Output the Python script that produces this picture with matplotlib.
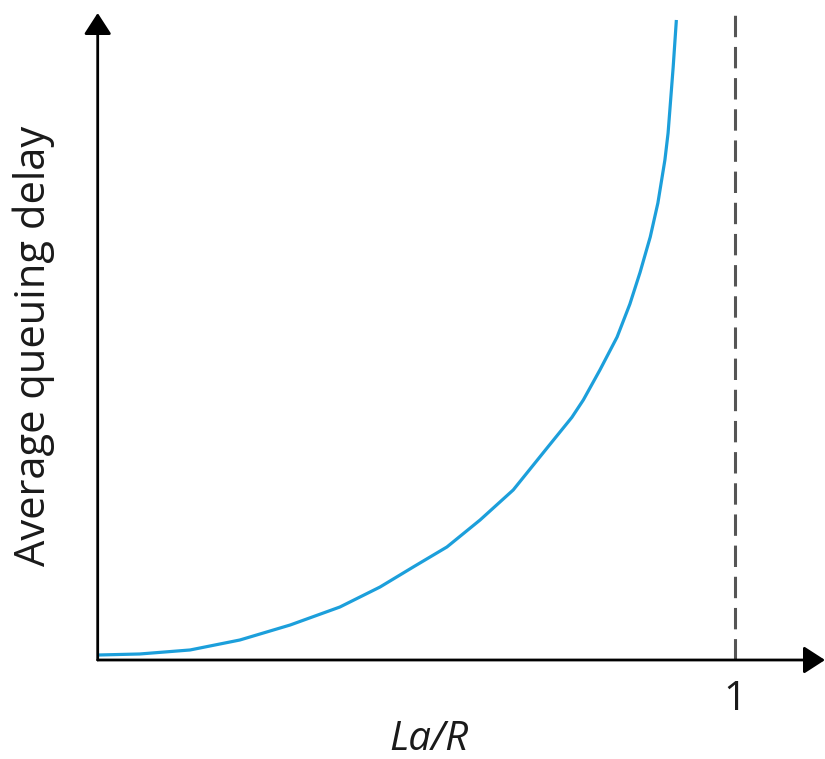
import matplotlib
matplotlib.use("Agg")
import matplotlib.pyplot as plt

# Data (load La/R vs. average queuing delay, arbitrary units)
load = [0.0, 0.066, 0.145, 0.223, 0.302, 0.380, 0.443, 0.495, 0.548, 0.600,
        0.652, 0.707, 0.744, 0.762, 0.788, 0.815, 0.835, 0.851, 0.867, 0.879,
        0.890, 0.895, 0.903, 0.908]
delay = [0.077, 0.093, 0.155, 0.309, 0.541, 0.819, 1.128, 1.437, 1.747, 2.164,
         2.628, 3.30, 3.75, 4.019, 4.482, 4.992, 5.50, 5.99, 6.538, 7.063,
         7.728, 8.145, 9.165, 9.892]
xticks = [1]
xtick_labels = ["1"]
xlabel = "La/R"
ylabel = "Average queuing delay"

W, H = 825, 759
fig = plt.figure(figsize=(W / 100, H / 100), dpi=100)
x0, x1 = 97.7, 825.0
y0, y1 = 660.0, 13.0
ax = fig.add_axes([x0 / W, 1 - y0 / H, (x1 - x0) / W, (y0 - y1) / H])
ax.set_xlim(0, (x1 - x0) / (735.0 - x0))
ax.set_ylim(0, 10)
for s in ax.spines.values():
    s.set_visible(False)
ax.set_xticks([])
ax.set_yticks([])

font = "Open Sans"
txtcol = "#1a1a1a"
ax.plot(load, delay, color="#1c9fdb", lw=2.3, solid_capstyle="butt",
        solid_joinstyle="round", zorder=3)
ax.axvline(xticks[0], ymin=0, ymax=(660 - 15) / (660 - 13), color="#555555",
           lw=2.2, dashes=(7, 3.2), zorder=2)

arrow = dict(arrowstyle="-|>,head_length=0.65,head_width=0.42", color="black",
             lw=2.0, mutation_scale=20, shrinkA=0, shrinkB=0)
ax.annotate("", xy=(1, 0), xytext=(0, 0), xycoords="axes fraction",
            textcoords="axes fraction", arrowprops=arrow, annotation_clip=False)
ax.annotate("", xy=(0, 1), xytext=(0, 0), xycoords="axes fraction",
            textcoords="axes fraction", arrowprops=arrow, annotation_clip=False)

for t, lab in zip(xticks, xtick_labels):
    fig.text(735 / W, 1 - 700 / H, lab, ha="center", va="center", fontsize=29,
             family=font, color=txtcol)

fig.text(429 / W, 1 - 740 / H, xlabel, ha="center", va="center", fontsize=29,
         family=font, style="italic", color=txtcol)
fig.text(34 / W, 1 - 346 / H, ylabel, ha="center", va="center", fontsize=30,
         family=font, rotation=90, color=txtcol)

fig.savefig("out.png", dpi=100)
